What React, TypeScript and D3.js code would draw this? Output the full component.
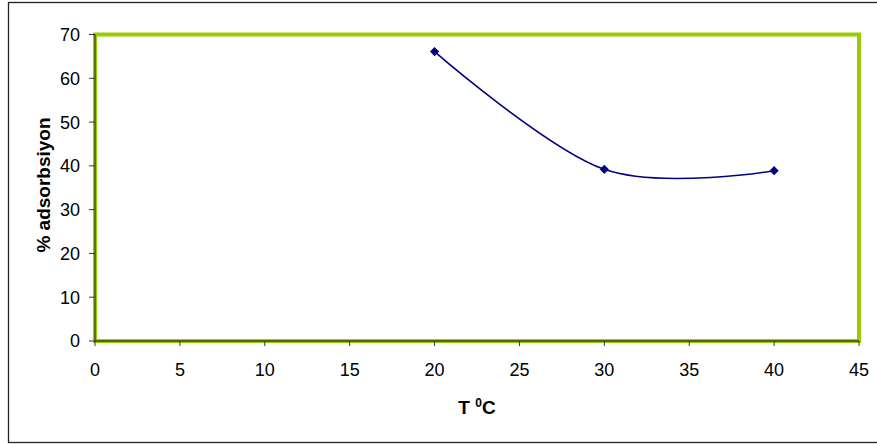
import React from "react";
import * as d3 from "d3";

const temperatures = [20, 30, 40];
const adsorption = [66.1, 39.2, 38.9];
const xTicks = [0, 5, 10, 15, 20, 25, 30, 35, 40, 45];
const yTicks = [0, 10, 20, 30, 40, 50, 60, 70];

const W = 877;
const H = 444;
const plot = { left: 95, right: 859, top: 34.5, bottom: 341 };

export default function App() {
  const x = d3.scaleLinear().domain([0, 45]).range([plot.left, plot.right]);
  const y = d3.scaleLinear().domain([0, 70]).range([plot.bottom, plot.top]);
  const pts = temperatures.map((t, i) => [t, adsorption[i]] as [number, number]);
  const line = d3
    .line<[number, number]>()
    .x((d) => x(d[0]))
    .y((d) => y(d[1]))
    .curve(d3.curveCardinal.tension(0));
  const marker = d3.symbol().type(d3.symbolSquare).size(42)();
  const font = "'Liberation Sans', Arial, sans-serif";

  return (
    <svg
      width={W}
      height={H}
      style={{ position: "absolute", left: 0, top: 0, display: "block" }}
      fontFamily={font}
    >
      <rect x={0} y={0} width={W} height={H} fill="#fff" />
      <rect x={8.5} y={2.5} width={885} height={440} fill="#fff" stroke="#222" strokeWidth={1.3} />
      {/* plot area border */}
      <rect
        x={plot.left}
        y={plot.top}
        width={plot.right - plot.left}
        height={plot.bottom - plot.top}
        fill="#fff"
        stroke="#99CC00"
        strokeWidth={4}
      />
      {/* axes lines */}
      <line x1={plot.left} x2={plot.left} y1={plot.top} y2={plot.bottom} stroke="#3a4a10" strokeWidth={1.3} />
      <line x1={plot.left} x2={plot.right} y1={plot.bottom} y2={plot.bottom} stroke="#3a4a10" strokeWidth={1.3} />
      {/* y ticks */}
      {yTicks.map((t) => (
        <g key={"y" + t}>
          <line x1={plot.left - 6} x2={plot.left} y1={y(t)} y2={y(t)} stroke="#333" strokeWidth={1} />
          <text x={80} y={y(t)} dy="0.36em" textAnchor="end" fontSize={18} fill="#000">
            {t}
          </text>
        </g>
      ))}
      {/* x ticks */}
      {xTicks.map((t) => (
        <g key={"x" + t}>
          <line x1={x(t)} x2={x(t)} y1={plot.bottom} y2={plot.bottom + 5} stroke="#333" strokeWidth={1} />
          <text x={x(t)} y={376} textAnchor="middle" fontSize={18} fill="#000">
            {t}
          </text>
        </g>
      ))}
      {/* series */}
      <path d={line(pts) || ""} fill="none" stroke="#000080" strokeWidth={1.6} />
      {pts.map((p, i) => (
        <path
          key={"m" + i}
          d={marker || ""}
          transform={`translate(${x(p[0])},${y(p[1])}) rotate(45)`}
          fill="#000080"
        />
      ))}
      {/* axis titles */}
      <text x={(plot.left + plot.right) / 2} y={414} textAnchor="middle" fontSize={19} fontWeight="bold" fill="#000">
        T <tspan fontSize={12} dy={-7}>0</tspan>
        <tspan dy={7}>C</tspan>
      </text>
      <text
        transform={`translate(50,185) rotate(-90)`}
        textAnchor="middle"
        fontSize={19}
        fontWeight="bold"
        fill="#000"
      >
        % adsorbsiyon
      </text>
    </svg>
  );
}
